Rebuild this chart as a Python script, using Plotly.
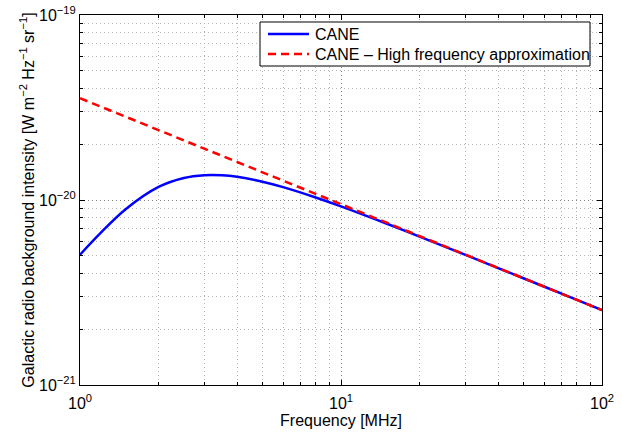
import plotly.graph_objects as go

# Frequency [MHz] and intensities [W m^-2 Hz^-1 sr^-1]
freq_cane = [1, 1.2, 1.5, 2, 2.5, 3, 3.5, 4, 5, 6, 8, 10, 15, 20, 30, 50, 70, 100]
cane = [5.06e-21, 6.64e-21, 8.94e-21, 1.176e-20, 1.315e-20, 1.362e-20, 1.36e-20,
        1.334e-20, 1.256e-20, 1.174e-20, 1.032e-20, 9.24e-21, 7.44e-21, 6.34e-21,
        5.05e-21, 3.775e-21, 3.115e-21, 2.54e-21]

freq_hf = [1, 10, 100]
cane_hf = [3.55e-20, 9.49e-21, 2.54e-21]

series_names = ["CANE", "CANE – High frequency approximation"]
series_colors = ["#0000ff", "#ff0000"]
series_dash = ["solid", "8px,5px"]

x_major = [1, 10, 100]
x_major_text = ["10<sup>0</sup>", "10<sup>1</sup>", "10<sup>2</sup>"]
y_major = [1e-21, 1e-20, 1e-19]
y_major_text = ["10<sup>−21</sup>", "10<sup>−20</sup>", "10<sup>−19</sup>"]

x_minor = [m * d for d in (1, 10) for m in range(2, 10)]
y_minor = [m * d for d in (1e-21, 1e-20) for m in range(2, 10)]

FONT = "Liberation Sans, Arial, Helvetica, sans-serif"
W, H = 623, 435
ML, MR, MT, MB = 80, 21, 15, 50
PW, PH = W - ML - MR, H - MT - MB


def px(x):
    return (x - ML) / PW


def py(y):
    return (H - MB - y) / PH


fig = go.Figure()
fig.add_trace(go.Scatter(x=freq_cane, y=cane, mode="lines", name=series_names[0],
                         line=dict(color=series_colors[0], width=2.5, shape="spline")))
fig.add_trace(go.Scatter(x=freq_hf, y=cane_hf, mode="lines", name=series_names[1],
                         line=dict(color=series_colors[1], width=2.5, dash=series_dash[1])))

axis_common = dict(
    showline=True, linecolor="black", linewidth=1, mirror="ticks",
    ticks="inside", ticklen=5, tickcolor="black", tickwidth=1,
    showgrid=True, gridcolor="#808080", griddash="1px,3px", gridwidth=1,
    zeroline=False, automargin=False,
    tickfont=dict(size=16, color="black", family=FONT),
)
minor_common = dict(tickmode="array", ticks="inside", ticklen=3, tickcolor="black",
                    showgrid=True, gridcolor="#b4b4b4", griddash="1px,3px", gridwidth=1)

fig.update_xaxes(type="log", range=[0, 2], tickmode="array", tickvals=x_major,
                 ticktext=x_major_text, ticklabelstandoff=4,
                 title=dict(text="Frequency [MHz]", font=dict(size=16, color="black", family=FONT), standoff=3),
                 minor=dict(tickvals=x_minor, **minor_common),
                 **axis_common)
fig.update_yaxes(type="log", range=[-21, -19], tickmode="array", tickvals=y_major,
                 ticktext=y_major_text,
                 title=dict(text="Galactic radio background intensity [W m<sup>−2</sup> Hz<sup>−1</sup> sr<sup>−1</sup>]",
                            font=dict(size=16, color="black", family=FONT), standoff=0),
                 minor=dict(tickvals=y_minor, **minor_common),
                 **axis_common)

# Legend box drawn in paper coordinates (Matlab-style compact legend)
shapes = [dict(type="rect", xref="paper", yref="paper",
               x0=px(260), x1=px(590), y0=py(66), y1=py(22),
               line=dict(color="black", width=1), fillcolor="white", layer="above")]
annotations = []
row_y = [34, 54]
for name, color, dash, yy in zip(series_names, series_colors, series_dash, row_y):
    shapes.append(dict(type="line", xref="paper", yref="paper",
                       x0=px(268), x1=px(309), y0=py(yy), y1=py(yy),
                       line=dict(color=color, width=2.5, dash=dash), layer="above"))
    annotations.append(dict(xref="paper", yref="paper", x=px(313), y=py(yy),
                            xanchor="left", yanchor="middle", text=name, showarrow=False,
                            font=dict(size=16, family=FONT, color="black")))

fig.update_layout(
    width=W, height=H,
    margin=dict(l=ML, r=MR, t=MT, b=MB),
    paper_bgcolor="white", plot_bgcolor="white",
    font=dict(family=FONT, size=16, color="black"),
    showlegend=False,
    shapes=shapes,
    annotations=annotations,
)

fig.write_html("out.html")
